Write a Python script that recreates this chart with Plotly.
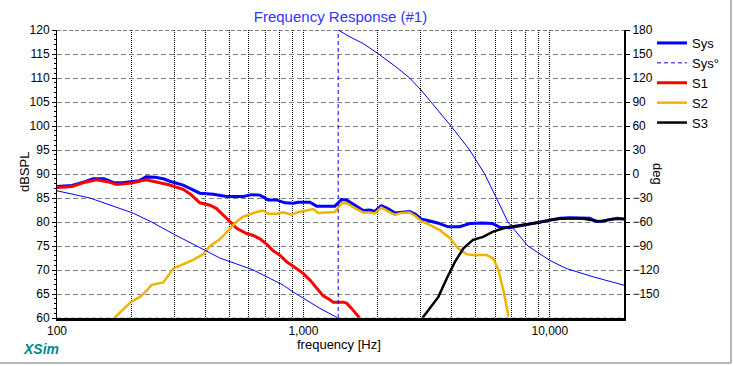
import math
import plotly.graph_objects as go

# ---------------- data ----------------
sys_hz = [100, 115, 130, 140, 155, 170, 185, 200, 215, 230, 250, 270, 287, 325, 357, 380, 431, 488,
          570, 617, 666, 720, 779, 841, 909, 953, 1063, 1131, 1342, 1429, 1497, 1644, 1748, 1861,
          1950, 2070, 2200, 2350, 2500, 2700, 2850, 3010, 3200, 3500, 3870, 4300, 4760, 5300, 5850,
          6270, 6870, 7500, 8000, 9000, 10000, 11000, 12000, 13300, 14500, 15500, 16500, 17500,
          18800, 20000]
sys_db = [87.4, 87.6, 88.4, 89.0, 89.0, 88.2, 88.2, 88.4, 88.6, 89.4, 89.3, 89.0, 88.5, 87.7, 86.7,
          86.0, 85.8, 85.3, 85.3, 85.7, 85.6, 84.6, 84.6, 84.0, 83.9, 84.1, 84.1, 83.3, 83.3, 84.7,
          84.6, 83.2, 82.4, 82.5, 82.2, 83.4, 82.8, 81.9, 82.1, 82.2, 81.6, 80.6, 80.3, 79.8, 79.0,
          79.0, 79.7, 79.8, 79.7, 78.9, 78.8, 79.2, 79.4, 79.9, 80.4, 80.8, 80.9, 80.9, 80.8, 80.1,
          80.2, 80.5, 80.8, 80.6]

s1_hz = [100, 115, 130, 145, 160, 175, 200, 215, 230, 250, 270, 287, 325, 346, 380, 418, 444, 473,
         503, 536, 588, 626, 666, 709, 754, 803, 855, 909, 998, 1063, 1131, 1203, 1281, 1321, 1450,
         1497, 1569, 1669, 1690]
s1_db = [87.2, 87.4, 88.3, 88.8, 88.4, 87.8, 88.1, 88.4, 88.8, 88.4, 88.0, 87.7, 86.8, 85.9, 84.0,
         83.5, 82.8, 81.5, 80.1, 78.7, 77.6, 77.2, 76.5, 75.4, 74.0, 73.1, 71.7, 70.8, 69.3, 67.9,
         66.2, 64.6, 63.8, 63.3, 63.3, 63.1, 62.0, 60.4, 60.0]

s2_hz = [171, 185, 200, 217, 230, 242, 270, 287, 296, 316, 357, 392, 418, 458, 503, 536, 570, 607,
         646, 687, 720, 779, 828, 896, 953, 1030, 1096, 1148, 1342, 1429, 1497, 1644, 1748, 1861,
         1950, 2070, 2200, 2350, 2500, 2700, 2850, 3000, 3160, 3580, 3940, 4240, 4590, 4880, 5540,
         5890, 6180, 6480, 6800]
s2_db = [60.0, 61.8, 63.4, 64.4, 65.6, 66.9, 67.4, 69.3, 70.3, 70.9, 72.1, 73.3, 75.0, 76.4, 78.7,
         80.1, 81.1, 81.6, 82.1, 82.4, 81.7, 81.7, 82.0, 81.5, 82.1, 82.4, 82.7, 81.9, 82.1, 83.9,
         83.9, 82.7, 82.0, 82.0, 81.8, 83.0, 82.3, 81.5, 81.9, 82.0, 81.2, 80.2, 79.7, 78.3, 76.6,
         74.5, 73.3, 73.1, 73.1, 72.4, 70.0, 65.8, 60.3]

s3_hz = [3040, 3260, 3530, 3820, 4120, 4460, 4880, 5360, 5890, 6690, 8000, 9070, 10000, 11000,
         13300, 15000, 15950, 18000, 20000]
s3_db = [60.0, 62.0, 64.4, 68.3, 71.7, 74.5, 76.3, 76.9, 78.0, 78.9, 79.4, 79.9, 80.4, 80.7, 80.8,
         80.3, 80.1, 80.6, 80.6]

# system phase, split at the +/-180 wrap
ph_lo_hz = [100, 136, 204, 242, 301, 350, 380, 458, 518, 536, 626, 731, 829, 909, 998, 1166, 1343, 1384]
ph_lo_deg = [-21, -30, -49, -60, -76, -87, -92, -105, -111.6, -112.5, -120, -130.4, -139, -147.5,
             -155.4, -167.9, -178, -180]
ph_hi_hz = [1384, 1543, 1750, 2020, 2350, 2700, 3000, 3300, 3970, 4730, 5440, 6070, 6760, 8150,
            9070, 10000, 11640, 14970, 20000]
ph_hi_deg = [180, 171.5, 163, 150, 135, 120, 105, 90, 60, 30, 0, -30, -60, -90, -99, -108, -118,
             -128.5, -139]

x_major = [100, 1000, 10000]
x_grid = [100, 200, 300, 400, 500, 600, 700, 800, 900, 1000, 2000, 3000, 4000, 5000, 6000, 7000,
          8000, 9000, 10000, 20000]
db_ticks = [60, 65, 70, 75, 80, 85, 90, 95, 100, 105, 110, 115, 120]
deg_ticks = [-150, -120, -90, -60, -30, 0, 30, 60, 90, 120, 150, 180]

# ---------------- figure ----------------
FONT = "Liberation Sans, Arial, sans-serif"
BLUE = "#0000ff"

fig = go.Figure()
fig.add_trace(go.Scatter(x=sys_hz, y=sys_db, name="Sys", mode="lines",
                         line=dict(color=BLUE, width=3), legendrank=1))
fig.add_trace(go.Scatter(x=ph_lo_hz + [None] + ph_hi_hz, y=ph_lo_deg + [None] + ph_hi_deg,
                         mode="lines", yaxis="y2", showlegend=False,
                         line=dict(color=BLUE, width=1)))
fig.add_trace(go.Scatter(x=[ph_lo_hz[-1], ph_hi_hz[0]], y=[ph_lo_deg[-1], ph_hi_deg[0]],
                         mode="lines", yaxis="y2", name="Sys°", legendrank=2,
                         line=dict(color=BLUE, width=1, dash="4px,3px")))
fig.add_trace(go.Scatter(x=s1_hz, y=s1_db, name="S1", mode="lines",
                         line=dict(color="#ff0000", width=3), legendrank=3))
fig.add_trace(go.Scatter(x=s2_hz, y=s2_db, name="S2", mode="lines",
                         line=dict(color="#f2b300", width=2.5), legendrank=4))
fig.add_trace(go.Scatter(x=s3_hz, y=s3_db, name="S3", mode="lines",
                         line=dict(color="#000000", width=2.5), legendrank=5))

ticktext = [f"{v:,}" if v in x_major else "" for v in x_grid]

fig.update_layout(
    width=733, height=366,
    margin=dict(l=57, r=109, t=30, b=48, autoexpand=False),
    paper_bgcolor="white", plot_bgcolor="white",
    font=dict(family=FONT, size=12, color="black"),
    title=dict(text="Frequency Response (#1)", x=(57 + 624) / 2 / 733, xanchor="center",
               y=1 - 17 / 366, yanchor="middle",
               font=dict(family=FONT, size=15, color="#3333ff")),
    xaxis=dict(type="log", range=[2, math.log10(20000)], tickmode="array", tickvals=x_grid,
               ticktext=ticktext, ticks="", showgrid=True, gridcolor="black", gridwidth=1,
               griddash="1px,1px", showline=True, linecolor="black", linewidth=3, mirror=False,
               zeroline=False, tickfont=dict(size=12)),
    yaxis=dict(range=[60, 120], tickmode="array", tickvals=db_ticks, ticks="outside", ticklen=4,
               tickcolor="black", showgrid=True, gridcolor="#808080", gridwidth=1,
               griddash="5px,3px", showline=True, linecolor="black", linewidth=1,
               zeroline=False, tickfont=dict(size=12),
               minor=dict(dtick=1, ticks="outside", ticklen=2, tickcolor="black", showgrid=False)),
    yaxis2=dict(range=[-180, 180], overlaying="y", side="right", tickmode="array",
                tickvals=deg_ticks, ticks="outside", ticklen=4, tickcolor="black",
                showgrid=False, showline=True, linecolor="black", linewidth=2,
                zeroline=False, tickfont=dict(size=12)),
    legend=dict(x=(652 - 57) / 567, y=(318 - 28) / 288, xanchor="left", yanchor="top",
                bgcolor="rgba(0,0,0,0)", font=dict(family=FONT, size=13, color="black"),
                itemwidth=30, tracegroupgap=0),
    showlegend=True,
    shapes=[
        dict(type="line", xref="paper", yref="y", x0=0, x1=1, y0=120, y1=120,
             line=dict(color="black", width=1, dash="4px,2px"), layer="above"),
        dict(type="line", xref="paper", yref="y", x0=0, x1=1, y0=60, y1=60,
             line=dict(color="#9a9a9a", width=1, dash="4px,3px"), layer="above"),
        dict(type="line", xref="paper", yref="paper", x0=-57 / 567, x1=(731 - 57) / 567,
             y0=(318 - 363) / 288, y1=(318 - 363) / 288,
             line=dict(color="#a0a0a0", width=1.5)),
        dict(type="line", xref="paper", yref="paper", x0=(731 - 57) / 567, x1=(731 - 57) / 567,
             y0=(318 - 363) / 288, y1=318 / 288,
             line=dict(color="#a0a0a0", width=1.5)),
    ],
    annotations=[
        dict(text="dBSPL", xref="paper", yref="paper", x=(24 - 57) / 567, y=(318 - 172) / 288,
             textangle=-90, showarrow=False, xanchor="center", yanchor="middle",
             font=dict(family=FONT, size=13, color="black")),
        dict(text="deg", xref="paper", yref="paper", x=(658 - 57) / 567, y=(318 - 174) / 288,
             textangle=90, showarrow=False, xanchor="center", yanchor="middle",
             font=dict(family=FONT, size=13, color="black")),
        dict(text="frequency [Hz]", xref="paper", yref="paper", x=(339 - 57) / 567,
             y=(318 - 344) / 288, showarrow=False, xanchor="center", yanchor="middle",
             font=dict(family=FONT, size=13, color="black")),
        dict(text="<b><i>XSim</i></b>", xref="paper", yref="paper", x=(41 - 57) / 567,
             y=(318 - 349) / 288, showarrow=False, xanchor="center", yanchor="middle",
             font=dict(family=FONT, size=14, color="#008b8b")),
    ],
)

fig.write_html("out.html", config={"displayModeBar": False},
               post_script="document.body.style.margin='0px';document.body.style.overflow='hidden';")
